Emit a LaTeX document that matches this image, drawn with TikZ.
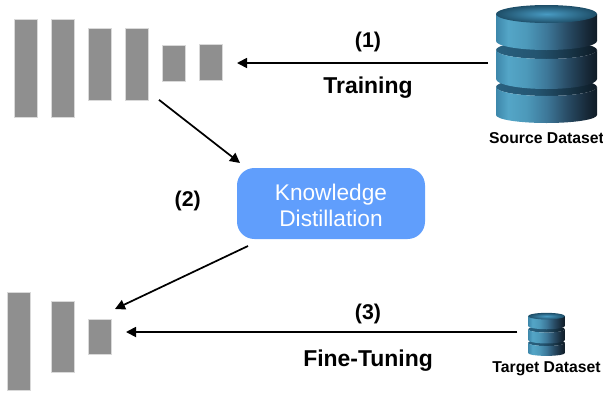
\documentclass[tikz,border=0pt]{standalone}
\usepackage{fontspec}
\setmainfont{Liberation Sans}
\usetikzlibrary{arrows.meta,positioning}
\definecolor{barGray}{RGB}{143,143,143}
\definecolor{kdBlue}{RGB}{96,158,252}
\definecolor{dbTopIn}{RGB}{72,155,195}
\definecolor{dbTopOut}{RGB}{30,78,104}
\pgfdeclarehorizontalshading{discbody}{100bp}{
  rgb(0bp)=(0.24,0.53,0.67);
  rgb(25bp)=(0.24,0.53,0.67);
  rgb(31bp)=(0.33,0.65,0.78);
  rgb(40bp)=(0.30,0.60,0.73);
  rgb(50bp)=(0.24,0.47,0.60);
  rgb(60bp)=(0.16,0.30,0.40);
  rgb(70bp)=(0.09,0.16,0.22);
  rgb(75bp)=(0.06,0.11,0.15);
  rgb(100bp)=(0.06,0.11,0.15)}
\pgfdeclarehorizontalshading{disctop}{100bp}{
  rgb(0bp)=(0.16,0.38,0.50);
  rgb(25bp)=(0.16,0.38,0.50);
  rgb(45bp)=(0.14,0.33,0.44);
  rgb(75bp)=(0.05,0.10,0.14);
  rgb(100bp)=(0.05,0.10,0.14)}
\tikzset{
  dbstack/.pic={
    % lowest disc first, the upper ones cover it
    \shade[shading=disctop] (0,87) ellipse[x radius=50.5,y radius=9];
    \shade[shading=discbody] (-50.5,87) -- (-50.5,115) arc[start angle=180,end angle=0,x radius=50.5,y radius=8] -- (50.5,87) arc[start angle=0,end angle=180,x radius=50.5,y radius=9] -- cycle;
    \shade[shading=disctop] (0,50) ellipse[x radius=50.5,y radius=9];
    \shade[shading=discbody] (-50.5,50) -- (-50.5,79) arc[start angle=180,end angle=0,x radius=50.5,y radius=10] -- (50.5,50) arc[start angle=0,end angle=180,x radius=50.5,y radius=9] -- cycle;
    \shade[shading=discbody] (-50.5,14) -- (-50.5,41) arc[start angle=180,end angle=0,x radius=50.5,y radius=9] -- (50.5,14) -- cycle;
    \shade[inner color=dbTopIn,outer color=dbTopOut] (0,14) ellipse[x radius=50.5,y radius=9];
  }
}
\begin{document}
\begin{tikzpicture}[x=0.75pt,y=-0.75pt,>={Triangle[length=7.5pt,width=7.5pt]}]
	\tikzstyle{bar}=[fill=barGray, draw=gray!30, line width=0.3pt, inner sep=0pt, outer sep=0pt, minimum width=17.25pt]
	\tikzstyle{bar_big}=[bar, minimum height=73.5pt]
	\tikzstyle{bar_mid}=[bar, minimum height=53.5pt]
	\tikzstyle{bar_small}=[bar, minimum height=26.5pt]
	\tikzstyle{lab}=[font=\bfseries\fontsize{16}{19}\selectfont, inner sep=0pt]
	\tikzstyle{lab_big}=[font=\bfseries\fontsize{17.2}{20}\selectfont, inner sep=0pt]
	\tikzstyle{lab_db}=[font=\bfseries\fontsize{11.8}{14}\selectfont, inner sep=0pt]
	\tikzstyle{box}=[fill=kdBlue, rounded corners=13pt, minimum width=141pt, minimum height=53.25pt, inner sep=0pt, outer sep=0pt]
	\tikzstyle{box_text}=[text=white, align=center, font=\fontsize{17}{19.5}\selectfont, inner sep=0pt]
	\tikzstyle{db}=[inner sep=0pt, outer sep=0pt]
	\tikzstyle{flow}=[->, line width=1.3pt]

	\useasboundingbox (0,0) rectangle (603,397);

	\node[bar_big] (a1) at (25.5,68.5) {};
	\node[bar_big] (a2) [right=10.5pt of a1] {};
	\node[bar_mid] (a3) [below right=6.75pt and 10.5pt of a2.north east] {};
	\node[bar_mid] (a4) [right=10.5pt of a3] {};
	\node[bar_small] (a5) [below right=12.75pt and 10.5pt of a4.north east] {};
	\node[bar_small] (a6) [above right=0.75pt and 10.5pt of a5.south east] {};

	\node[bar_big] (b1) at (18.5,341) {};
	\node[bar_mid] (b2) [below right=6.75pt and 15.75pt of b1.north east] {};
	\node[bar_small] (b3) [below right=13.5pt and 10.5pt of b2.north east] {};

	\node[box] (kd) at (331,203.5) {};
	\node[box_text, yshift=-1.5pt] (kdname) at (kd) {Knowledge\\Distillation};

	\node[db, minimum width=75.75pt, minimum height=88.5pt] (src) at (546.5,63) {};
	\pic[shift={(546.5,0)}] {dbstack};
	\node[lab_db, below=8pt of src] (srcname) {Source Dataset};

	\node[db, minimum width=27.75pt, minimum height=31.5pt] (tgt) at (546.5,332) {};
	\pic[shift={(546.5,311)},scale=0.365] {dbstack};
	\node[lab_db, below=6pt of tgt] (tgtname) {Target Dataset};

	\node[lab, anchor=base] (one) at (368,47) {(1)};
	\node[lab_big, below=34.5pt of one.base, anchor=base] (train) {Training};
	\node[lab, left=27pt of kd.west, yshift=2pt] (two) {(2)};
	\node[lab, anchor=base] (three) at (368,319) {(3)};
	\node[lab_big, below=35.25pt of three.base, anchor=base] (tune) {Fine-Tuning};

	\coordinate[shift={(-3,19)}] (d1) at (a5.south west);
	\coordinate[shift={(3,-5)}] (d2) at (kd.north west);
	\coordinate[shift={(11,7)}] (d3) at (kd.south west);
	\coordinate[shift={(4,-10)}] (d4) at (b3.north east);
	\coordinate[shift={(15,0)}] (t1) at (a6.east |- src.west);
	\coordinate[shift={(15,0)}] (t2) at (b3.east |- tgt.west);

	\draw[flow, shorten <=6pt] (src.west) -- (t1);
	\draw[flow] (d1) -- (d2);
	\draw[flow] (d3) -- (d4);
	\draw[flow, shorten <=8pt] (tgt.west) -- (t2);
\end{tikzpicture}
\end{document}
